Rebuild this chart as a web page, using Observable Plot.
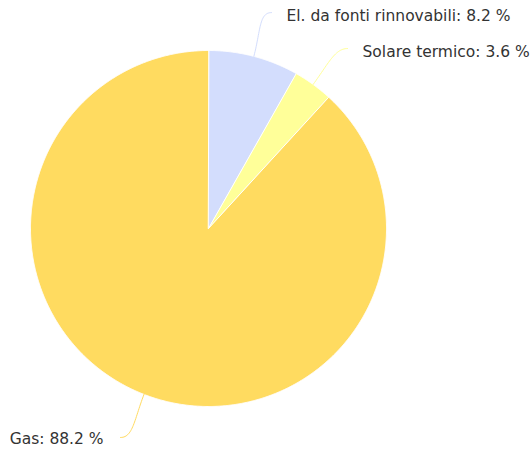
<!DOCTYPE html>
<html>
<head>
<meta charset="utf-8">
<script src="https://cdn.jsdelivr.net/npm/d3@7"></script>
<script src="https://cdn.jsdelivr.net/npm/@observablehq/plot@0.6"></script>
<style>
  html, body { margin: 0; padding: 0; background: #fff; }
</style>
</head>
<body>
<div id="chart"></div>
<script>
// ---- data ----
const categories = ["El. da fonti rinnovabili", "Solare termico", "Gas"];
const values = [8.2, 3.6, 88.2];
const colors = ["#d3ddfd", "#ffff99", "#ffdb60"];

// ---- layout (connector end points in radius units, label side) ----
const layout = {
  width: 531, height: 452,
  cx: 208, cy: 228, r: 178,
  ends: [[0.354, 1.213, 1], [0.781, 1.011, 1], [-0.494, -1.174, -1]]
};

const rows = categories.map((c, i) => ({cat: c, value: values[i]}));
const arcs = d3.pie().sort(null).value(d => d.value)(rows);

// slice polygons
const slicePts = [];
for (const a of arcs) {
  slicePts.push({cat: a.data.cat, x: 0, y: 0});
  const n = Math.max(2, Math.ceil((a.endAngle - a.startAngle) / 0.005));
  for (let k = 0; k <= n; k++) {
    const t = a.startAngle + (a.endAngle - a.startAngle) * k / n;
    slicePts.push({cat: a.data.cat, x: Math.sin(t), y: Math.cos(t)});
  }
}

// connectors (cubic bezier from edge to label)
const connPts = [];
const labels = [];
arcs.forEach((a, i) => {
  const m = (a.startAngle + a.endAngle) / 2;
  const [ex, ey, side] = layout.ends[i];
  const p0 = [Math.sin(m), Math.cos(m)];
  const p1 = [Math.sin(m) * 1.15, Math.cos(m) * 1.15];
  const p2 = [ex - side * 0.07, ey];
  const p3 = [ex, ey];
  for (let k = 0; k <= 30; k++) {
    const t = k / 30, u = 1 - t;
    const x = u*u*u*p0[0] + 3*u*u*t*p1[0] + 3*u*t*t*p2[0] + t*t*t*p3[0];
    const y = u*u*u*p0[1] + 3*u*u*t*p1[1] + 3*u*t*t*p2[1] + t*t*t*p3[1];
    connPts.push({cat: a.data.cat, x, y});
  }
  labels.push({cat: a.data.cat, x: ex, y: ey, side, text: `${a.data.cat}: ${a.data.value} %`});
});

const {width, height, cx, cy, r} = layout;

const chart = Plot.plot({
  width, height,
  margin: 0,
  x: {axis: null, domain: [-cx / r, (width - cx) / r]},
  y: {axis: null, domain: [-(height - cy) / r, cy / r]},
  color: {domain: categories, range: colors},
  marks: [
    Plot.line(slicePts, {x: "x", y: "y", z: "cat", fill: "cat", stroke: "white", strokeWidth: 1, curve: "linear-closed"}),
    Plot.line(connPts, {x: "x", y: "y", z: "cat", stroke: "cat", strokeWidth: 1}),
    Plot.text(labels.filter(d => d.side > 0), {x: "x", y: "y", text: "text", textAnchor: "start", dx: 15, dy: 3, fontSize: 15.5, fontFamily: "DejaVu Sans", fill: "#333"}),
    Plot.text(labels.filter(d => d.side < 0), {x: "x", y: "y", text: "text", textAnchor: "end", dx: -17, dy: 2, fontSize: 15.5, fontFamily: "DejaVu Sans", fill: "#333"})
  ]
});
document.getElementById("chart").appendChild(chart);
</script>
</body>
</html>
